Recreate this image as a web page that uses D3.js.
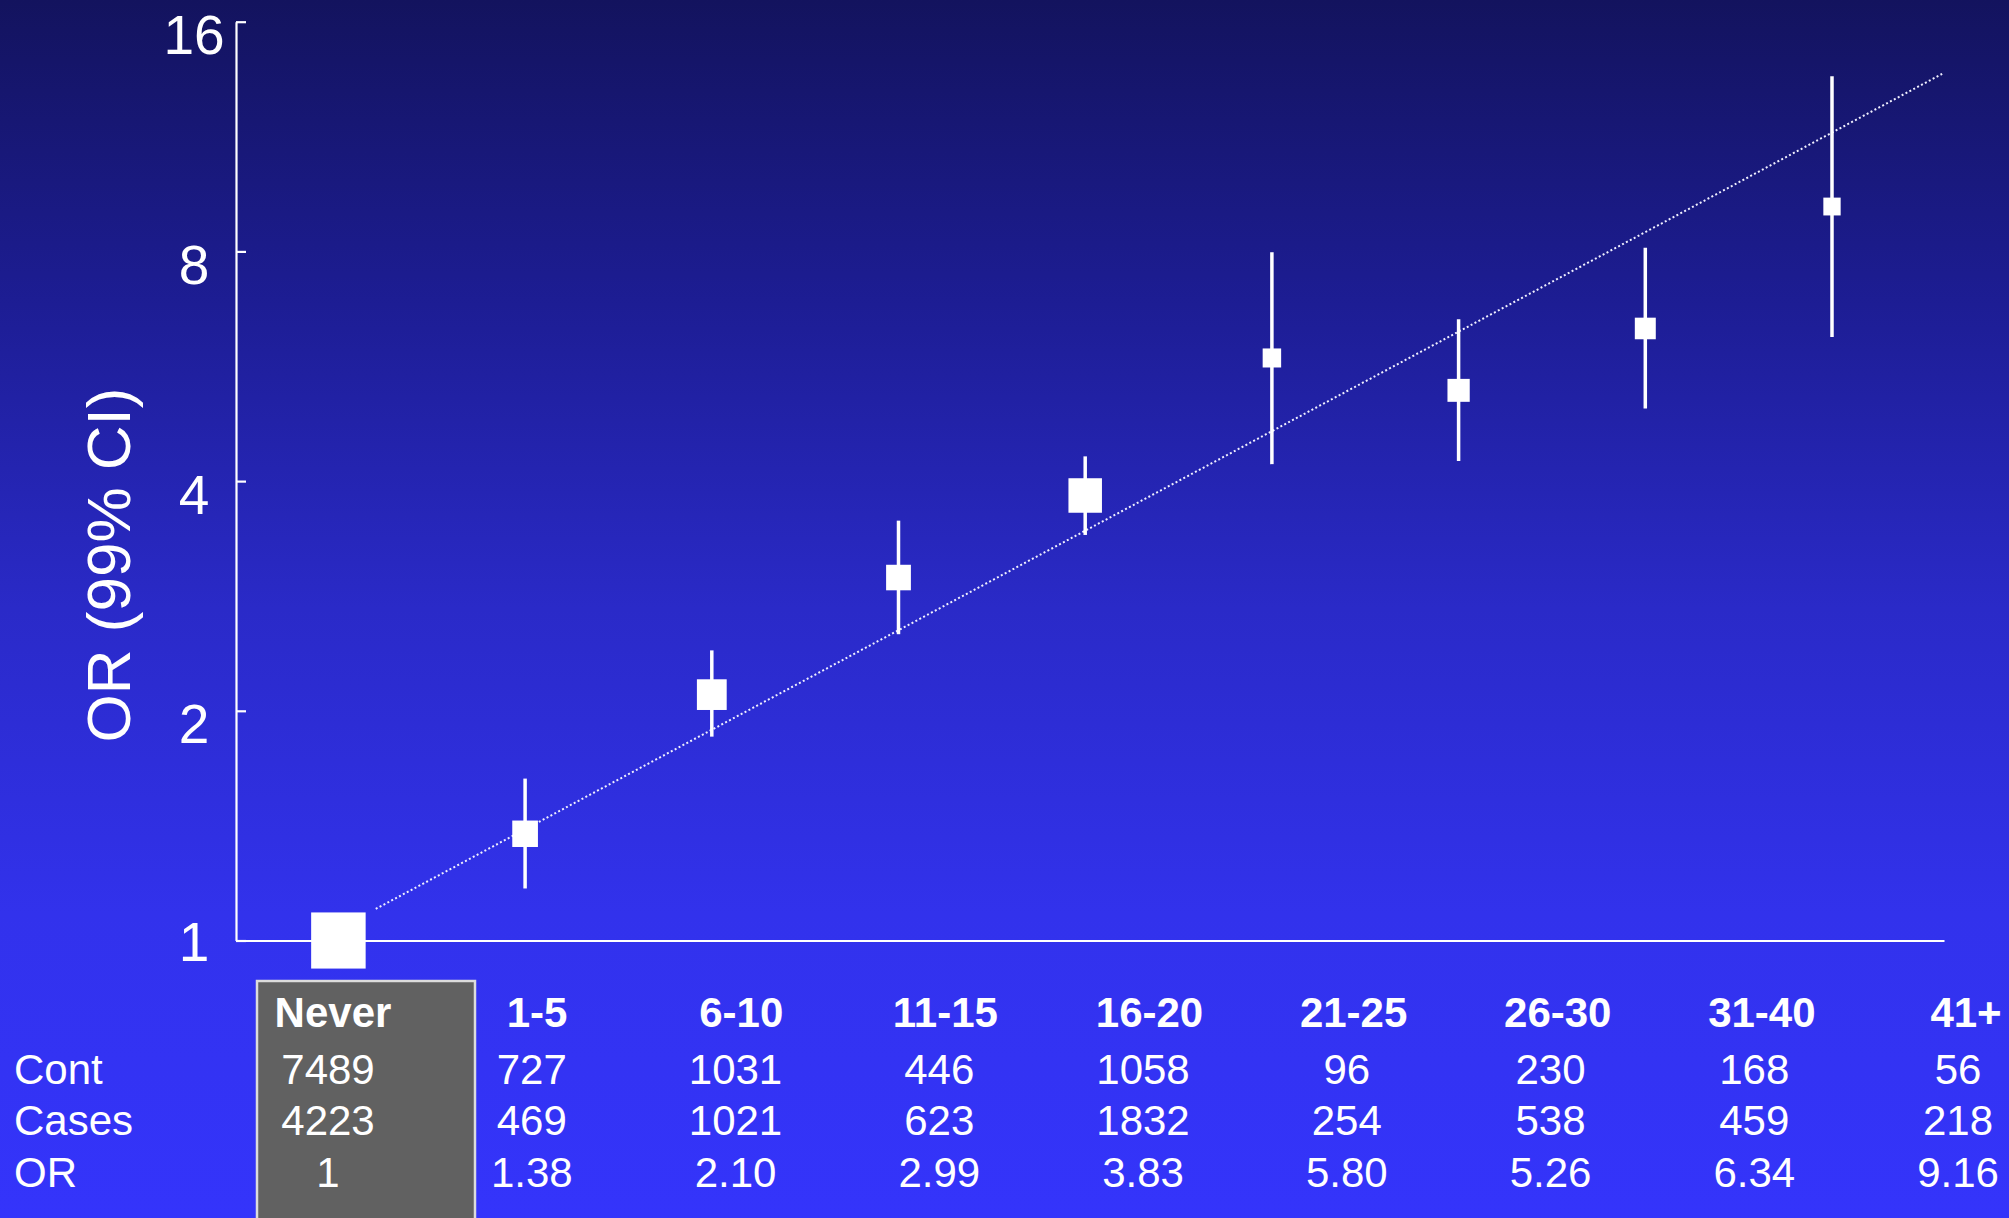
<!DOCTYPE html>
<html>
<head>
<meta charset="utf-8">
<script src="https://cdn.jsdelivr.net/npm/d3@7"></script>
<style>
  html, body { margin: 0; padding: 0; overflow: hidden; background: #2626b8; }
  svg { display: block; font-family: "Liberation Sans", Arial, Helvetica, sans-serif; }
</style>
</head>
<body>
<svg id="chart" width="2009" height="1218"></svg>
<script>
// Pack-years of smoking: controls, cases and odds ratios (99% CI) per category
const categories = ["Never", "1-5", "6-10", "11-15", "16-20", "21-25", "26-30", "31-40", "41+"];
const controls   = [7489, 727, 1031, 446, 1058, 96, 230, 168, 56];
const cases      = [4223, 469, 1021, 623, 1832, 254, 538, 459, 218];
const oddsRatios = [1, 1.38, 2.10, 2.99, 3.83, 5.80, 5.26, 6.34, 9.16];
const ciLower    = [null, 1.17, 1.85, 2.52, 3.40, 4.21, 4.25, 4.98, 6.18];
const ciUpper    = [null, 1.63, 2.40, 3.55, 4.31, 7.98, 6.52, 8.09, 13.57];
// relative precision of each estimate (drives the marker area)
const weights    = [1, 0.222, 0.299, 0.207, 0.378, 0.115, 0.167, 0.148, 0.101];
// fitted log-linear trend, given at its two ends (category position, OR)
const trendPos   = [0.2, 8.59];
const trendOR    = [1.10, 13.67];
const yTicks     = [1, 2, 4, 8, 16];
const rowLabels  = ["Cont", "Cases", "OR"];

const W = 2009, H = 1218;
const plot = { left: 236, right: 1944, top: 21.7, bottom: 940.5 };

const svg = d3.select("#chart");

// background: dark navy at the top fading to bright blue
const defs = svg.append("defs");
const grad = defs.append("linearGradient")
  .attr("id", "bg").attr("x1", 0).attr("y1", 0).attr("x2", 0).attr("y2", 1);
[[0, "#13135e"], [0.25, "#1d1d94"], [0.5, "#2a2ac8"], [0.75, "#3232ec"], [1, "#3434fb"]]
  .forEach(([o, c]) => grad.append("stop").attr("offset", o).attr("stop-color", c));
svg.append("rect").attr("width", W).attr("height", H).attr("fill", "url(#bg)");

// scales
const x = d3.scaleLinear().domain([0, categories.length - 1]).range([338.4, 1832]);
const y = d3.scaleLog().base(2).domain([1, 16]).range([plot.bottom, plot.top]);
const side = d3.scaleSqrt().domain([0, 1]).range([0, 54.5]);
const xLine = d3.scaleLinear().domain([0, 1]).range([plot.left, plot.right]);
// table columns: headings and figures sit on slightly different grids
const colHead = d3.scalePoint().domain(categories).range([333, 1966]);
const colNum  = d3.scalePoint().domain(categories).range([328, 1958]);

// y axis: ticks point into the plot, labels centred left of the axis
const yAxis = d3.axisLeft(y)
  .tickValues(yTicks)
  .tickFormat(d3.format("d"))
  .tickSizeInner(-10)
  .tickSizeOuter(0)
  .tickPadding(42);

const gy = svg.append("g")
  .attr("transform", `translate(${plot.left},0)`)
  .call(yAxis);
gy.select(".domain").attr("stroke", "#ffffff").attr("stroke-width", 2.2);
gy.selectAll(".tick line").attr("stroke", "#ffffff").attr("stroke-width", 2.2);
gy.selectAll(".tick text")
  .attr("fill", "#ffffff")
  .attr("font-size", 55)
  .attr("font-family", null)
  .attr("text-anchor", "middle")
  .attr("dy", null)
  // the lowest label sits level with the x axis, the others just below their tick
  .attr("y", d => d === 1 ? 19.5 : 32);

// x axis: a plain baseline at OR = 1
const xAxis = d3.axisBottom(xLine).tickValues([]).tickSizeOuter(0);
const gx = svg.append("g")
  .attr("transform", `translate(0,${plot.bottom})`)
  .call(xAxis);
gx.select(".domain").attr("stroke", "#ffffff").attr("stroke-width", 2.2);

// y axis title
svg.append("text")
  .attr("transform", "translate(130,565) rotate(-90)")
  .attr("text-anchor", "middle")
  .attr("fill", "#ffffff")
  .attr("font-size", 62)
  .text("OR (99% CI)");

// dotted trend line
const trend = trendPos.map((p, i) => [p, trendOR[i]]);
svg.append("path")
  .datum(trend)
  .attr("fill", "none")
  .attr("stroke", "#f0f0ff")
  .attr("stroke-width", 2)
  .attr("stroke-dasharray", "2 2.4")
  .attr("d", d3.line().x(d => x(d[0])).y(d => y(d[1])));

const points = categories.map((c, i) => ({
  cat: c, i, or: oddsRatios[i], lo: ciLower[i], hi: ciUpper[i], w: weights[i]
}));

// confidence intervals
svg.append("g").selectAll("line")
  .data(points.filter(d => d.lo !== null))
  .join("line")
  .attr("x1", d => x(d.i)).attr("x2", d => x(d.i))
  .attr("y1", d => y(d.lo)).attr("y2", d => y(d.hi))
  .attr("stroke", "#ffffff")
  .attr("stroke-width", 3.5);

// point estimates, sized by precision
svg.append("g").selectAll("rect")
  .data(points)
  .join("rect")
  .attr("x", d => x(d.i) - side(d.w) / 2)
  .attr("y", d => y(d.or) - side(d.w) * 1.03 / 2)
  .attr("width", d => side(d.w))
  .attr("height", d => side(d.w) * 1.03)
  .attr("fill", "#ffffff");

// reference-category highlight behind the table column
svg.append("rect")
  .attr("x", 257).attr("y", 981)
  .attr("width", 218).attr("height", 260)
  .attr("fill", "#616161")
  .attr("stroke", "#dcdcdc")
  .attr("stroke-width", 2.5);

// table under the plot
const table = svg.append("g").attr("fill", "#ffffff");

table.selectAll("text.head")
  .data(categories)
  .join("text")
  .attr("class", "head")
  .attr("x", d => colHead(d))
  .attr("y", 1027)
  .attr("text-anchor", "middle")
  .attr("font-weight", "bold")
  .attr("font-size", 42)
  .text(d => d);

const rowY = [1084, 1135, 1187];
table.selectAll("text.rowlabel")
  .data(rowLabels)
  .join("text")
  .attr("class", "rowlabel")
  .attr("x", 14)
  .attr("y", (d, i) => rowY[i])
  .attr("font-size", 42)
  .text(d => d);

const fmtOR = (v, i) => i === 0 ? d3.format("d")(v) : d3.format(".2f")(v);
const rows = [
  controls.map(String),
  cases.map(String),
  oddsRatios.map(fmtOR)
];
rows.forEach((vals, r) => {
  table.selectAll(`text.row${r}`)
    .data(vals)
    .join("text")
    .attr("class", `row${r}`)
    .attr("x", (d, i) => colNum(categories[i]))
    .attr("y", rowY[r])
    .attr("text-anchor", "middle")
    .attr("font-size", 42)
    .text(d => d);
});
</script>
</body>
</html>
